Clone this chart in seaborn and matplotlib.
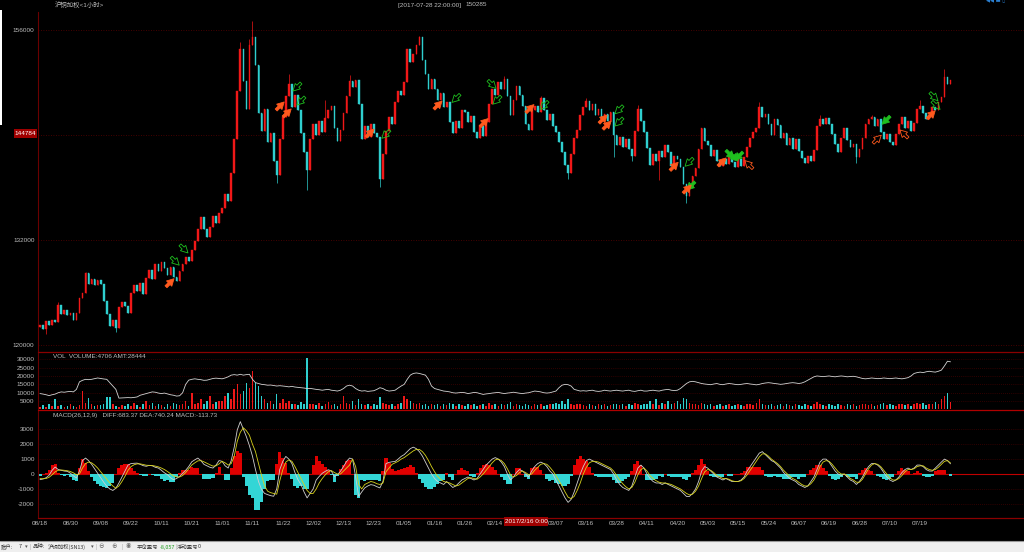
import numpy as np
import pandas as pd
import matplotlib
matplotlib.use("Agg")
import matplotlib.pyplot as plt
import seaborn as sns
from matplotlib.patches import Rectangle
from matplotlib.lines import Line2D

# ---------------- data ----------------
date_labels = ['08/18', '08/30', '09/08', '09/22', '10/11', '10/21', '11/01', '11/11', '11/22', '12/02',
               '12/13', '12/23', '01/05', '01/16', '01/26', '02/14', '', '03/07', '03/16', '03/28',
               '04/11', '04/20', '05/03', '05/15', '05/24', '06/07', '06/19', '06/28', '07/10', '07/19']
label_index = [10 * k for k in range(len(date_labels))]

first_open = 122000
close = [
    122300, 121800, 122700, 122300, 122900, 122600, 124600, 123500, 124000, 123400,
    123700, 122900, 123600, 125400, 125900, 128200, 127000, 127500, 126800, 127400,
    127000, 125000, 123500, 122200, 122800, 121900, 124300, 124900, 124400, 123600,
    125900, 126800, 126200, 127100, 125800, 127600, 128600, 127500, 129300, 128400,
    129500, 128800, 128000, 128900, 127800, 127300, 128400, 129300, 130100, 129600,
    130800, 131900, 133300, 134600, 133200, 132300, 133500, 134700, 133900, 135100,
    135600, 137200, 136400, 139600, 143500, 149000, 153800, 150200, 147000, 154300,
    155200, 152000, 146500, 144500, 147000, 143200, 144200, 141000, 139400, 143500,
    146000, 148500, 149800, 147200, 148600, 146800, 144200, 142000, 140000, 143500,
    145300, 144000, 145600, 144300, 145900, 146800, 147300, 144800, 143300, 144600,
    146500, 148400, 150200, 149500, 150300, 147500, 143500, 145000, 143800, 145300,
    144200, 143800, 139000, 141800, 144500, 146000, 145200, 147800, 149000, 148600,
    150000, 153800, 152300, 153300, 154300, 155200, 152600, 151000, 149300, 150400,
    149200, 148000, 148800, 147200, 147800, 145500, 144200, 145600, 144800, 146900,
    146600, 145500, 146200, 144300, 143600, 145000, 143900, 145500, 147500, 149300,
    148600, 150000, 149200, 150400, 148400, 146300, 148000, 149600, 148600, 147300,
    145200, 144600, 146800, 147300, 146600, 148200, 146900, 145700, 146400, 145000,
    144300, 143200, 142000, 140600, 139600, 141800, 143600, 144600, 146300, 147200,
    147900, 146800, 147500, 146300, 147000, 145800, 146400, 145600, 146600, 144000,
    142800, 143800, 142600, 143500, 142400, 141600, 144500, 147000, 145600, 144300,
    142500, 140600, 141800, 141000, 142200, 141500, 142800, 142000, 140400, 141600,
    141200, 140300, 138400, 137000, 138000, 139300, 140200, 142400, 144800, 143300,
    142800, 141600, 142300, 141000, 140400, 141300, 140700, 141600, 140900, 140300,
    141200, 140400, 141500, 142600, 143700, 144300, 144800, 147200, 146000, 146400,
    145200, 144000, 145800, 145100, 143600, 144200, 142900, 143700, 142400, 143500,
    142200, 141400, 140800, 141600, 141000, 142300, 145000, 145800, 145200, 145900,
    145300, 144100, 143000, 142000, 143600, 144800, 143400, 142600, 143000, 141500,
    142400, 143700, 145300, 145800, 146000, 145000, 145800, 144300, 143500, 144100,
    143200, 142800, 144100, 145300, 146000, 144800, 145600, 144400, 145400, 147000,
    147300, 146500, 145800, 146300, 147200, 146900, 147800, 148300, 150600, 149800,
    150285]

wick_high = {6: 124900, 15: 128300, 66: 154600, 69: 155000, 70: 157000, 82: 151000, 94: 148000,
             102: 150800, 125: 155300, 153: 150700, 165: 148500, 180: 148200, 197: 147400,
             237: 147800, 257: 146300, 274: 146300, 290: 148000, 298: 151500}
wick_low = {2: 121300, 25: 121500, 78: 138500, 88: 137700, 112: 138000, 174: 139000, 189: 141500,
            195: 141000, 204: 138800, 213: 136200, 269: 140800}

volume = [
    1500, 2500, 1200, 3000, 2000, 6000, 1800, 2500, 1500, 2200,
    3000, 2000, 1500, 2500, 10800, 4000, 7000, 3000, 2000, 2500,
    2500, 3500, 7500, 7500, 3000, 2000, 1500, 2500, 2000, 3000,
    2000, 4000, 2500, 1500, 3000, 5000, 2500, 4000, 2000, 3000,
    2500, 1500, 3500, 2000, 4000, 3000, 2500, 3500, 5000, 2000,
    10000, 3000, 4000, 6000, 3500, 5000, 8000, 3000, 4500, 5000,
    5000, 8000, 10000, 6000, 12000, 15000, 9000, 11000, 16000, 13000,
    23000, 16000, 14000, 8000, 6000, 4000, 5000, 3000, 9000, 4000,
    6000, 4000, 5000, 3000, 3500, 2500, 4500, 3000, 31000, 3500,
    3000, 2500, 4000, 2000, 3000, 4500, 2500, 3000, 2000, 3500,
    8000, 4000, 3000, 5000, 2500, 6000, 3000, 2500, 3000, 2000,
    3000, 2500, 7500, 4000, 3000, 2500, 3500, 2000, 3000, 4000,
    8000, 6000, 5000, 4000, 3000, 4000, 2500, 3000, 2000, 3000,
    2500, 3500, 2000, 3000, 2500, 4000, 3000, 2000, 3500, 2500,
    2000, 3000, 2500, 3500, 2000, 2500, 3000, 2000, 4000, 2500,
    3000, 2000, 3500, 2500, 3000, 4500, 2000, 3000, 2500, 2000,
    3000, 2500, 2000, 3500, 2500, 3000, 2000, 2500, 3000, 3500,
    4000, 3000, 5000, 3500, 6000, 3000, 2500, 3500, 3000, 2500,
    2000, 3000, 2500, 2000, 3500, 2500, 3000, 2000, 2500, 3000,
    3000, 2500, 3500, 2000, 3000, 2500, 4000, 3000, 2500, 3000,
    3500, 5000, 3000, 6000, 2500, 4000, 3000, 5000, 3500, 4000,
    5000, 3500, 7000, 6000, 4000, 3000, 3500, 2500, 4000, 3000,
    2500, 3000, 2000, 2500, 3000, 2000, 2500, 3500, 2000, 2500,
    3000, 2500, 2000, 3500, 3000, 2500, 4000, 6000, 3000, 2500,
    2500, 3000, 2000, 2500, 3500, 2000, 3000, 2500, 2000, 3000,
    2500, 2000, 3000, 2500, 2000, 3500, 4500, 3000, 2500, 2000,
    3000, 2500, 2000, 3000, 2500, 2000, 3500, 2500, 3000, 2000,
    2500, 3000, 3500, 2500, 3000, 2000, 2500, 3000, 4000, 2500,
    3000, 2500, 2000, 3500, 3000, 2500, 3000, 2000, 3500, 4000,
    3000, 4000, 2500, 3500, 3000, 4500, 3500, 6000, 8000, 10000,
    4706]

amt = [
    9500, 9200, 8800, 8300, 8800, 9200, 10000, 10500, 10300, 10600,
    10800, 10500, 12000, 16500, 17400, 18000, 17800, 18000, 18400, 18800,
    18500, 18200, 18000, 16000, 14000, 12000, 6800, 6900, 7000, 7100,
    7000, 7200, 7500, 8500, 9000, 9500, 10000, 10500, 10300, 9800,
    9500, 9800, 9300, 8800, 8500, 8000, 8200, 10000, 15000, 17500,
    18000, 18300, 18000, 17800, 17400, 17500, 18000, 18500, 18700, 18500,
    18300, 18800, 19500, 20500, 20800, 20500, 21000, 20500, 20800, 21000,
    18000, 16000, 15500, 15000, 14800, 14500, 14600, 14300, 14000, 14200,
    14000, 13800, 13500, 13800, 13400, 13200, 13000, 12800, 12500, 12600,
    12300, 12000, 11800, 11500, 11800, 12000, 11500, 11300, 11000, 11500,
    12500, 14000, 14500, 14000, 12500, 11500, 11000, 11200, 10800, 11000,
    11200, 12000, 13000, 12500, 11500, 11000, 11200, 11500, 12800, 14000,
    15000, 18000, 20500, 21500, 21800, 21500, 21000, 20500, 18000, 14000,
    12500, 12000, 11500, 11000, 10800, 10500, 10000, 9800, 10000, 10200,
    10000, 9500, 9800, 10200, 10000, 9500, 9000, 9300, 9500, 9800,
    10000, 10200, 9800, 9500, 9800, 10000, 10300, 10000, 9700, 9500,
    9800, 10000, 10500, 11000, 10800, 10500, 10000, 9800, 10000, 10500,
    11000, 13000, 14500, 15000, 14800, 14000, 12000, 11500, 11000, 11200,
    11000, 11300, 11500, 11000, 10800, 11000, 11500, 11200, 11000, 11300,
    11500, 11200, 11000, 11300, 11500, 11000, 10800, 11200, 11500, 11000,
    11000, 11300, 11500, 11200, 11000, 11500, 11800, 12000, 11500, 11300,
    11500, 12500, 14000, 15500, 16500, 16800, 16500, 16000, 15500, 15200,
    15000, 14800, 15200, 15500, 15000, 14800, 15200, 15500, 15300, 15000,
    14800, 15000, 15300, 15500, 15200, 15000, 14700, 15000, 15500, 15800,
    16000, 15800, 15500, 15300, 15000, 15200, 15500, 15800, 16000, 15800,
    15500, 15800, 16500, 17500, 18500, 19500, 20000, 19800, 19600, 19800,
    20000, 19700, 19500, 19800, 20000, 19800, 19500, 19700, 19800, 19500,
    19000, 18500, 18300, 18500, 18800, 18600, 18400, 18500, 18800, 18600,
    18400, 18600, 18800, 18500, 18300, 18600, 19000, 20000, 21500, 22000,
    22300, 22000, 22500, 22800, 22500, 22300, 22800, 23500, 26000, 28800,
    28444]

diff = [
    -380, -330, -250, -80, 250, 470, 300, 250, 200, 180,
    60, -120, -270, 200, 900, 1070, 900, 650, 350, 50,
    -250, -550, -820, -1000, -1100, -950, -600, -200, 200, 600,
    700, 720, 730, 650, 560, 520, 580, 550, 450, 400,
    250, 80, -40, -250, -380, -300, -160, 50, 250, 500,
    820, 950, 1070, 900, 650, 550, 450, 400, 600, 900,
    850, 550, 400, 900, 1800, 2960, 3510, 3000, 2500, 1900,
    1200, 300, -500, -1040, -1300, -1380, -1450, -1490, -1000, 300,
    850, 1180, 1000, 700, 100, -380, -710, -1200, -1600, -1300,
    -1000, -400, -160, 50, 180, 290, 200, -160, -50, 180,
    500, 840, 1070, 1000, -200, -1500, -1200, -930, -800, -710,
    -750, -850, -930, -500, 700, 780, 820, 840, 1000, 1180,
    1300, 1500, 1700, 1800, 1700, 1500, 1200, 800, 400, 0,
    -300, -500, -600, -700, -500, -700, -900, -800, -600, -400,
    -300, -200, -300, -400, -300, 0, 300, 600, 800, 1000,
    1100, 1000, 800, 500, 0, -400, -200, 100, 300, 200,
    0, -200, 200, 500, 700, 800, 700, 500, 200, 0,
    -400, -800, -1200, -1600, -1900, -1700, -1200, -600, 0, 500,
    900, 1000, 900, 800, 700, 600, 500, 400, 300, 0,
    -400, -700, -900, -1000, -1100, -800, -200, 400, 600, 400,
    0, -300, -500, -600, -600, -700, -600, -700, -800, -900,
    -1000, -1100, -1300, -1500, -1500, -1300, -1000, -500, 200, 500,
    400, 200, 0, -200, -300, -400, -300, -400, -500, -500,
    -500, -400, -200, 200, 500, 800, 1100, 1400, 1500, 1300,
    1100, 900, 800, 600, 400, 100, -100, -300, -400, -500,
    -700, -800, -900, -800, -500, -200, 300, 800, 1000, 1000,
    800, 500, 200, 0, -100, 0, -200, -400, -500, -700,
    -500, -200, 200, 500, 700, 700, 600, 400, 100, -200,
    -400, -500, -400, -200, 100, 300, 400, 300, 400, 600,
    600, 500, 300, 200, 200, 400, 600, 800, 1000, 900,
    683.37]

dea = [
    -300, -320, -300, -220, -50, 150, 250, 270, 250, 220,
    170, 80, -50, 0, 400, 700, 800, 750, 600, 400,
    150, -100, -350, -600, -800, -950, -800, -500, -150, 250,
    500, 620, 680, 680, 640, 590, 580, 570, 530, 480,
    400, 300, 170, 20, -120, -200, -200, -100, 100, 350,
    600, 750, 880, 900, 820, 720, 620, 530, 550, 680,
    850, 750, 600, 700, 1200, 2200, 2800, 3100, 2900, 2600,
    2000, 1500, 700, -100, -800, -1150, -1250, -1300, -1350, -450,
    300, 800, 950, 850, 500, 100, -300, -700, -1100, -1300,
    -1300, -1000, -600, -300, -50, 150, 230, 100, 0, 0,
    200, 400, 600, 1000, 500, -700, -1000, -700, -600, -500,
    -550, -650, -700, -600, 150, 400, 650, 750, 850, 1000,
    1100, 1250, 1400, 1550, 1650, 1650, 1500, 1250, 900, 500,
    150, -150, -350, -500, -550, -600, -700, -800, -750, -600,
    -450, -300, -250, -300, -350, -200, 0, 250, 500, 750,
    950, 1000, 900, 700, 350, -50, -200, -100, 100, 200,
    100, -50, 0, 250, 450, 650, 700, 650, 450, 200,
    -100, -450, -800, -1200, -1550, -1650, -1500, -1100, -600, 0,
    450, 750, 850, 850, 800, 700, 600, 500, 400, 200,
    -100, -400, -650, -850, -1000, -900, -550, -50, 300, 400,
    200, -100, -300, -450, -550, -600, -600, -650, -700, -800,
    -900, -1000, -1150, -1300, -1400, -1350, -1150, -800, -300, 150,
    300, 250, 100, -100, -200, -300, -300, -350, -450, -500,
    -500, -450, -300, -50, 250, 550, 850, 1150, 1350, 1350,
    1200, 1000, 850, 700, 500, 250, 50, -150, -300, -400,
    -550, -700, -800, -800, -650, -400, 0, 500, 800, 900,
    850, 650, 400, 150, 0, 0, -100, -300, -400, -550,
    -550, -350, 0, 350, 600, 700, 650, 500, 250, 0,
    -250, -400, -400, -300, -100, 150, 300, 300, 350, 500,
    550, 550, 400, 300, 250, 300, 450, 650, 850, 900,
    740.24]

# trade markers: (candle index, price at arrow head, colour, filled, direction of head)
markers = [
    (49.4, 130300, 'g', False, 'dr'), (46.5, 128900, 'g', False, 'dr'), (44.8, 127800, 'o', True, 'ur'),
    (81.1, 148000, 'o', True, 'ur'), (83.4, 147200, 'o', True, 'ur'), (82.7, 148800, 'g', False, 'dl'),
    (84.0, 147200, 'g', False, 'dl'), (110.7, 144900, 'o', True, 'ur'), (112.0, 143400, 'g', False, 'dl'),
    (133.1, 148100, 'o', True, 'ur'), (135.1, 147500, 'g', False, 'dl'), (148.3, 146100, 'o', True, 'ur'),
    (150.9, 149100, 'g', False, 'dr'), (148.6, 147300, 'g', False, 'dl'), (163.4, 147700, 'o', True, 'ur'),
    (164.1, 146700, 'g', False, 'dl'), (187.5, 146500, 'o', True, 'ur'), (188.8, 145800, 'o', True, 'ur'),
    (188.8, 146200, 'g', False, 'dl'), (188.8, 144800, 'g', False, 'dl'), (210.9, 141100, 'o', True, 'ur'),
    (211.9, 140200, 'g', False, 'dl'), (212.5, 137500, 'g', True, 'dl'), (215.2, 138500, 'o', True, 'ur'),
    (226.7, 141600, 'o', True, 'ur'), (229.3, 141100, 'g', True, 'dr'), (230.6, 140800, 'g', True, 'dr'),
    (228.3, 140900, 'g', True, 'dl'), (231.6, 141300, 'o', False, 'ul'), (276.8, 145000, 'g', True, 'dl'),
    (277.8, 144200, 'o', False, 'ur'), (282.7, 144800, 'o', False, 'ul'), (295.6, 147000, 'o', True, 'ur'),
    (296.5, 147700, 'g', False, 'dr'), (297.2, 146700, 'g', False, 'dr')]

# ---------------- styling ----------------
sns.set_theme(style="dark")
plt.rcParams['font.family'] = ['Liberation Sans', 'Noto Sans CJK SC', 'DejaVu Sans']
plt.rcParams['axes.unicode_minus'] = False

W, H = 1024, 552
BG = '#000000'
UP = '#f01818'
DOWN = '#2fcfcf'
TXT = '#bdbdbd'
GRID = '#5c0000'
SEP = '#8a0000'
FS = 4.6

def fy(y):
    return 1 - y / H

def fx(x):
    return x / W

df = pd.DataFrame({'i': np.arange(len(close)), 'close': close, 'volume': volume,
                   'amt': amt, 'diff': diff, 'dea': dea})
df['open'] = [first_open] + close[:-1]
df['high'] = [max(wick_high.get(k, 0), o, c) for k, o, c in zip(df.i, df.open, df.close)]
df['low'] = [min(wick_low.get(k, 10 ** 9), o, c) for k, o, c in zip(df.i, df.open, df.close)]
df['up'] = df.close >= df.open
df['macd'] = 2 * (df['diff'] - df['dea'])
df['col'] = np.where(df.up, UP, DOWN)

fig = plt.figure(figsize=(W / 100, H / 100), dpi=100, facecolor=BG)
L = fx(38)
axp = fig.add_axes([L, fy(352), 1 - L, (352 - 12) / H])
axv = fig.add_axes([L, fy(410), 1 - L, (410 - 352) / H], sharex=axp)
axm = fig.add_axes([L, fy(517.5), 1 - L, (517.5 - 410) / H], sharex=axp)

x0 = -2 / 3.035
x1 = (1024 - 40) / 3.035
for ax in (axp, axv, axm):
    ax.set_facecolor(BG)
    for s in ax.spines.values():
        s.set_visible(False)
    ax.spines['left'].set_visible(True)
    ax.spines['left'].set_color('#6a0000')
    ax.spines['left'].set_linewidth(0.8)
    ax.tick_params(axis='y', colors=TXT, labelsize=FS, length=0, pad=2.5)
    ax.tick_params(axis='x', length=0)
    ax.grid(False)

# ---- price panel ----
axp.vlines(df.i, df.low, df.high, colors=df.col, linewidth=0.5, zorder=2)
axp.bar(df.i, (df.close - df.open).abs(), bottom=df[['open', 'close']].min(axis=1),
        width=0.55, color=df.col, edgecolor=df.col, linewidth=0.3, zorder=3)
axp.set_ylim(119200, 158057)
axp.set_xlim(x0, x1)
pticks = [120000, 132000, 144000, 156000]
axp.set_yticks(pticks)
axp.set_yticklabels(['120000', '132000', '', '156000'])
for t in pticks:
    axp.axhline(t, color=GRID, lw=0.6, ls=(0, (1, 2)), zorder=0)

ocol = {'o': '#ff5a1e', 'g': '#1fbf1f'}
dirs = {'ur': (-8.6, -8.6), 'dl': (8.6, 8.6), 'dr': (-8.6, 8.6), 'ul': (8.6, -8.6)}
for (mi, mp, mc, filled, d) in markers:
    c = ocol[mc]
    axp.annotate('', xy=(mi, mp), xytext=dirs[d], textcoords='offset points',
                 arrowprops=dict(arrowstyle='simple,head_length=0.55,head_width=0.6,tail_width=0.22',
                                 fc=c if filled else 'none', ec=c, lw=0.6, mutation_scale=9),
                 zorder=5)

# ---- volume panel ----
axv.bar(df.i, df.volume, width=0.5, color=df.col, linewidth=0, zorder=2)
sns.lineplot(data=df, x='i', y='amt', ax=axv, color='#d4d4d4', linewidth=0.6, zorder=3)
axv.set_ylim(-300, 34300)
vticks = [5000, 10000, 15000, 20000, 25000, 30000]
axv.set_yticks(vticks)
axv.set_yticklabels([str(t) for t in vticks])
for t in vticks:
    axv.axhline(t, color=GRID, lw=0.5, ls=(0, (1, 2)), zorder=0)
axv.set_xlabel('')
axv.set_ylabel('')

# ---- MACD panel ----
axm.bar(df.i, df.macd, width=1.0, color=np.where(df.macd >= 0, '#e00000', '#33d6d6'),
        linewidth=0, zorder=2)
axm.axhline(0, color='#c00000', lw=0.8, zorder=1)
sns.lineplot(data=df, x='i', y='diff', ax=axm, color='#cfcfcf', linewidth=0.6, zorder=3)
sns.lineplot(data=df, x='i', y='dea', ax=axm, color='#d6d21c', linewidth=0.6, zorder=4)
axm.set_ylim(-2913, 4290)
mticks = [-2000, -1000, 0, 1000, 2000, 3000]
axm.set_yticks(mticks)
axm.set_yticklabels([str(t) for t in mticks])
for t in mticks:
    if t != 0:
        axm.axhline(t, color=GRID, lw=0.5, ls=(0, (1, 2)), zorder=0)
axm.set_xlabel('')
axm.set_ylabel('')
axm.set_xticks(label_index)
axm.set_xticklabels(date_labels)
axm.tick_params(axis='x', colors=TXT, labelsize=FS, length=0, pad=2.2)
plt.setp(axp.get_xticklabels(), visible=False)
plt.setp(axv.get_xticklabels(), visible=False)
axm.set_xlim(x0, x1)

# ---- separators and chrome ----
for y, c in [(352, SEP), (410, '#b00000'), (517.5, SEP)]:
    fig.add_artist(Line2D([fx(38), 1], [fy(y), fy(y)], color=c, lw=0.9))
fig.add_artist(Rectangle((0, fy(125)), fx(2), (125 - 10) / H, color='white', lw=0))

fig.text(fx(55), fy(5), '沪铜加权<1小时>', color=TXT, fontsize=FS, va='center', ha='left')
fig.text(fx(398), fy(5), '[2017-07-28 22:00:00]', color=TXT, fontsize=FS, va='center', ha='left')
fig.text(fx(465), fy(5), '150285', color=TXT, fontsize=FS, va='center', ha='left')
fig.text(fx(986), fy(1), '◀◀ ▬ ▯', color='#2a7fd0', fontsize=3.8, va='center', ha='left',
         family=['DejaVu Sans'])
fig.text(fx(53), fy(357), 'VOL  VOLUME:4706 AMT:28444', color=TXT, fontsize=FS, va='center', ha='left')
fig.text(fx(53), fy(416), 'MACD(26,12,9)   DIFF:683.37 DEA:740.24 MACD:-113.73', color=TXT,
         fontsize=FS, va='center', ha='left')

# crosshair value boxes
fig.add_artist(Rectangle((fx(14), fy(138)), fx(23), 9 / H, color='#a00000', lw=0))
fig.text(fx(25.5), fy(133.5), '144784', color='white', fontsize=FS, va='center', ha='center')
fig.add_artist(Rectangle((fx(504), fy(526)), fx(44), 9 / H, color='#a00000', lw=0, zorder=5))
fig.text(fx(526), fy(521.5), '2017/2/16 0:00', color='white', fontsize=FS, va='center', ha='center',
         zorder=6)

# status bar
SFS = 3.9
fig.add_artist(Rectangle((0, 0), 1, 11 / H, color='#efefef', lw=0))
fig.add_artist(Line2D([0, 1], [fy(541), fy(541)], color='#9a9a9a', lw=0.8))
sb_y = fy(547)
sb = [(1, '账户:', '#333333'), (19, '7', '#333333'), (25, '▾', '#555555'), (30, '|', '#999999'),
      (33, '品种:', '#333333'), (48, '沪铜加权(SN13)', '#333333'), (90.5, '▾', '#555555'),
      (95, '|', '#999999'), (98, '⊖', '#666666'), (111, '⊕', '#666666'), (122, '|', '#999999'),
      (126, '◉', '#777777'), (137, '平仓盈亏', '#333333'), (160, '-8,057', '#1a9a1a'),
      (175, '|', '#999999'), (177, '浮动盈亏', '#333333'), (198, '0', '#333333')]
for x, t, c in sb:
    fig.text(fx(x), sb_y, t, color=c, fontsize=SFS, va='center', ha='left',
             family=['Noto Sans CJK SC', 'DejaVu Sans'])

fig.savefig('out.png', dpi=100, facecolor=BG)
